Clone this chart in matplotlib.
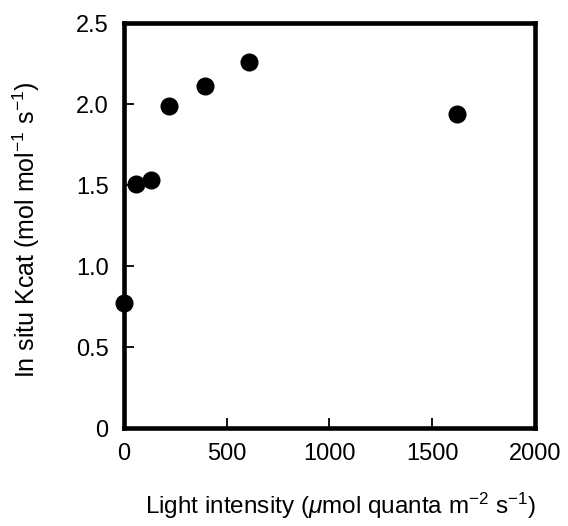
import matplotlib
matplotlib.use('Agg')
import matplotlib.pyplot as plt

plt.rcParams['font.family'] = ['Liberation Sans', 'DejaVu Sans']
plt.rcParams['mathtext.fontset'] = 'custom'
plt.rcParams['mathtext.rm'] = 'Liberation Sans'
plt.rcParams['mathtext.it'] = 'Liberation Sans:italic'

light = [0, 58, 130, 219, 397, 608, 1622]
kcat = [0.77, 1.51, 1.53, 1.99, 2.11, 2.26, 1.94]

xticks = [0, 500, 1000, 1500, 2000]
yticks = [0, 0.5, 1.0, 1.5, 2.0, 2.5]
ytick_labels = ['0', '0.5', '1.0', '1.5', '2.0', '2.5']

fig = plt.figure(figsize=(5.68, 5.26), dpi=100)
ax = fig.add_axes([0.218, 0.186, 0.724, 0.770])

ax.plot(light, kcat, 'o', color='black', markersize=12, clip_on=False, zorder=3)

ax.set_xlim(0, 2000)
ax.set_ylim(0, 2.5)
ax.set_xticks(xticks)
ax.set_yticks(yticks)
ax.set_yticklabels(ytick_labels)
ax.tick_params(direction='in', length=7, width=1.3, labelsize=17)
ax.tick_params(axis='x', pad=11)
ax.tick_params(axis='y', pad=11)
for s in ax.spines.values():
    s.set_linewidth(3.3)

ax.set_xlabel(r'Light intensity ($\mu$mol quanta m$^{\mathregular{-2}}$ s$^{\mathregular{-1}}$)',
              fontsize=17.5)
ax.set_ylabel(r'In situ Kcat (mol mol$^{\mathregular{-1}}$ s$^{\mathregular{-1}}$)',
              fontsize=18)
ax.xaxis.set_label_coords(0.527, -0.155)
ax.yaxis.set_label_coords(-0.2, 0.49)

fig.savefig('out.png', dpi=100)
